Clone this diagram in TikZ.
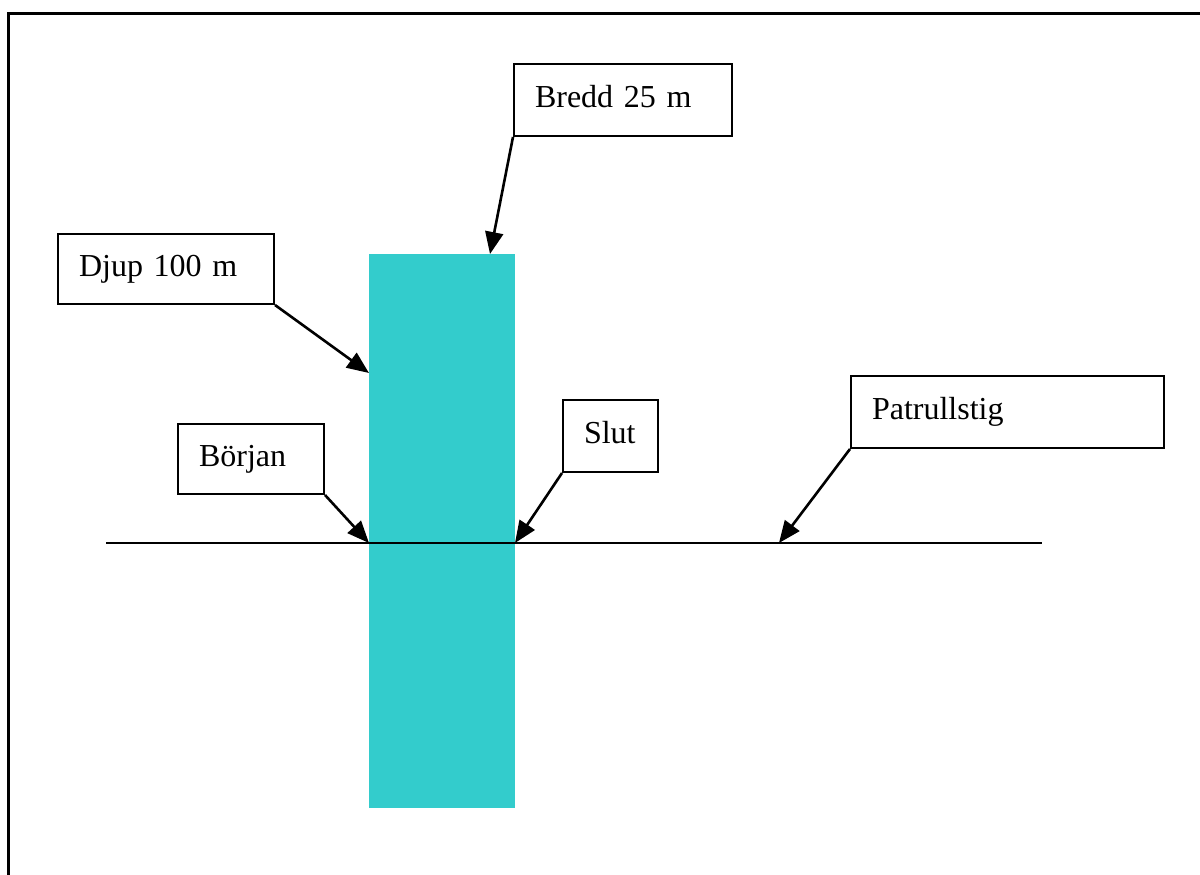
\documentclass[tikz,border=0pt]{standalone}
\usepackage{fontspec}
\setmainfont{Liberation Serif}
\usetikzlibrary{arrows.meta}
\definecolor{pool}{RGB}{51,204,204}
\begin{document}
\begin{tikzpicture}[x=1pt,y=-1pt,
  box/.style={draw, line width=2pt, anchor=north west, inner xsep=21pt, inner ysep=0pt,
    align=left, text height=22pt, text depth=7pt, font=\fontsize{32}{38}\selectfont},
  arr/.style={line width=2.6pt, -{Triangle[length=22pt,width=18pt]}}]
\useasboundingbox (0,0) rectangle (1200,875);
\draw[line width=3pt] (8,890) -- (8,14) -- (1210,14);
\node[fill=pool, minimum width=146pt, minimum height=554pt, inner sep=0pt, anchor=north west] (pool) at (369,254) {};
\coordinate (l1) at (106,543);
\coordinate (l2) at (1042,543);
\draw[line width=2.4pt] (l1) -- (l2);
\node[box, text width=176pt, minimum height=72pt] (bredd) at (513,63) {Bredd 25 m};
\node[box, text width=174pt, minimum height=70pt] (djup) at (57,233) {Djup 100 m};
\node[box, text width=104pt, minimum height=70pt] (borjan) at (177,423) {Början};
\node[box, text width=53pt, minimum height=72pt] (slut) at (562,399) {Slut};
\node[box, text width=271pt, minimum height=72pt] (patrull) at (850,375) {Patrullstig};
\coordinate (tb) at (490,254);
\coordinate (td) at (369,373);
\coordinate (tbo) at (369,543);
\coordinate (ts) at (515,543);
\coordinate (tp) at (779,543);
\draw[arr] (bredd.south west) -- (tb);
\draw[arr] (djup.south east) -- (td);
\draw[arr] (borjan.south east) -- (tbo);
\draw[arr] (slut.south west) -- (ts);
\draw[arr] (patrull.south west) -- (tp);
\end{tikzpicture}
\end{document}
